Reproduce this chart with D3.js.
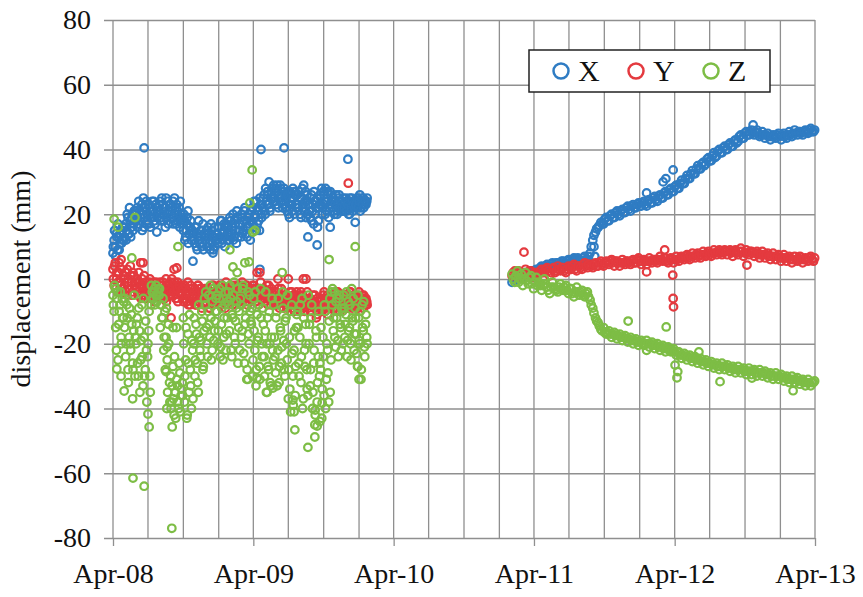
<!DOCTYPE html>
<html>
<head>
<meta charset="utf-8">
<script src="https://cdn.jsdelivr.net/npm/d3@7"></script>
<style>
  body { margin: 0; background: #fff; }
  svg { display: block; }
  text { font-family: "Liberation Serif", "Times New Roman", Tinos, serif; fill: #111; }
</style>
</head>
<body>
<svg id="chart" width="863" height="597"></svg>
<script>
// ---- series and axis definitions ----
const seriesNames = ["X", "Y", "Z"];
const seriesColors = ["#2f7cc3", "#e43a3f", "#7dbd45"];
const yTicks = [-80, -60, -40, -20, 0, 20, 40, 60, 80];
const xTickLabels = ["Apr-08", "Apr-09", "Apr-10", "Apr-11", "Apr-12", "Apr-13"];
const yTitle = "displacement (mm)";
const serifStack = '"Liberation Serif", "Times New Roman", Tinos, serif';

// ---- first monitoring period: morning round, every 3 days ----
const survey1Start = "2008-04-01";
const survey1StepDays = 3;
const survey1X = [
  8,12,10,14,9,13,11,15,12,16,
  13,17,15,19,14,18,16,20,17,21,
  18,22,17,21,19,23,20,16,22,24,
  20,17,22,19,24,21,18,23,20,22,
  21,24,19,23,18,22,25,20,17,21,
  23,20,24,18,22,17,21,19,16,20,
  19,15,18,13,17,21,14,16,12,15,
  14,11,16,9,13,12,15,10,17,13,
  12,15,10,14,11,17,13,9,16,12,
  14,11,16,13,18,12,15,10,17,14,
  16,12,18,14,20,13,17,11,19,15,
  17,13,19,15,21,14,18,16,20,12,
  18,22,16,20,24,17,21,15,23,19,
  22,26,20,24,27,23,21,25,28,24,
  25,28,23,27,26,29,24,22,27,25,
  24,21,27,19,25,23,28,20,26,22,
  26,22,25,19,28,23,21,27,24,20,
  23,19,26,21,17,24,22,25,18,23,
  25,28,22,26,20,24,27,19,23,26,
  22,25,20,24,23,21,26,22,24,21,
  23,21,25,22,24,20,23,25,21,24,
  24,22,25,23,26,22,24,25,23,24,24
];
const survey1Y = [
  3,-2,5,0,-4,2,-1,6,-3,1,
  -2,2,-5,0,-3,4,-1,-4,1,-2,
  -3,0,-5,-1,5,-4,-2,1,-6,-3,
  -2,-5,0,-3,-6,-1,-4,-2,-5,-3,
  -4,-1,-5,-2,-3,-6,0,-4,-2,-5,
  -3,0,-5,3,-2,-6,-1,-4,-3,-2,
  -5,-2,-6,-3,-7,-1,-4,-8,-3,-5,
  -6,-3,-8,-4,-2,-7,-5,-9,-4,-6,
  -5,-8,-3,-6,-9,-4,-7,-2,-6,-5,
  -4,-7,-2,-5,-8,-3,-6,-4,-1,-5,
  -5,-3,-7,-2,-6,-4,-8,-3,-5,-2,
  -3,-6,-1,-5,-4,-7,-2,-5,-3,-6,
  -4,-2,-6,-3,-7,2,-5,-4,-1,-6,
  -5,-3,-7,-4,-6,-2,-5,-8,-4,-6,
  -6,-4,-8,0,-5,-7,-3,-6,-9,-5,
  -7,-5,0,-8,-6,-4,-9,-7,-5,-8,
  -6,-9,-7,-4,-8,0,-10,-6,-8,-7,
  -8,-6,-10,-7,-9,-5,-8,-11,-7,-9,
  -9,-6,-8,-4,-10,-7,-5,-9,-6,-8,
  -7,-5,-9,-6,-8,-4,-7,-10,-6,-8,
  -6,-8,-5,-7,-9,-6,-4,-8,-7,-5,
  -7,-5,-9,-6,-8,-7,-5,-9,-6,-8,-7
];
const survey1Z = [
  -5,-10,-3,-22,-4,-14,-8,-18,-6,-12,
  -15,-24,-8,-28,-18,-20,-11,-26,-16,-30,
  -20,-12,-30,-16,-25,-8,-33,-18,-28,-22,
  -24,-16,-30,-8,-4,-6,-3,-5,-7,-4,
  -5,-15,-8,-12,-22,-10,-18,-25,-14,-32,
  -30,-38,-27,-42,-35,-15,-33,-40,-29,-36,
  -32,-12,-38,-25,-43,-17,-35,-28,-40,-22,
  -20,-30,-14,-26,-35,-18,-24,-10,-28,-16,
  -8,-15,-24,-5,-18,-12,-22,-3,-16,-10,
  -10,-20,-6,-24,-14,-2,-18,-8,-22,-12,
  -4,-16,-6,-24,-12,-1,-20,-9,-3,-15,
  -22,-8,-16,-2,-26,-12,-31,-4,-20,-10,
  -14,-30,-6,-22,-33,-11,-18,-27,-3,-20,
  -9,-24,-16,-35,-12,-28,-20,-33,-6,-25,
  -18,-29,-10,-22,-32,-15,-26,-4,-19,-30,
  -12,-25,-37,-18,-41,-8,-30,-22,-36,-15,
  -10,-26,-18,-32,-6,-37,-22,-14,-28,-36,
  -20,-33,-12,-40,-26,-45,-16,-38,-24,-30,
  -28,-43,-18,-36,-10,-31,-22,-38,-6,-25,
  -8,-16,-4,-21,-12,-19,-6,-14,-22,-10,
  -5,-18,-11,-24,-7,-15,-20,-3,-13,-22,
  -9,-17,-27,-12,-20,-31,-8,-16,-21,-14,-18
];

// ---- first monitoring period: afternoon round, every 3 days ----
const survey1bStart = "2008-04-02";
const survey1bX = [
  10,15,7,13,17,9,14,11,16,12,
  16,12,20,14,22,13,19,15,21,18,
  21,16,24,18,20,15,25,19,23,17,
  18,23,16,21,19,24,17,22,19,21,
  23,18,25,20,22,16,19,24,21,23,
  19,22,17,25,20,23,18,22,24,18,
  17,20,12,15,19,11,16,18,14,13,
  12,16,10,14,18,11,13,15,9,14,
  14,10,16,12,9,15,11,13,10,14,
  12,16,13,18,11,14,17,13,16,12,
  14,19,13,16,12,18,15,21,13,17,
  15,20,14,18,22,16,13,19,17,21,
  21,17,24,19,15,22,18,25,20,23,
  25,21,28,23,26,30,22,27,25,29,
  27,24,29,22,25,28,26,23,28,26,
  22,26,20,27,24,21,25,27,23,26,
  23,27,20,25,22,29,24,19,26,23,
  21,25,18,23,27,20,24,16,22,26,
  23,20,27,24,28,21,25,22,27,24,
  24,21,23,26,20,25,22,24,21,25,
  22,24,21,23,20,25,22,24,23,22,
  23,25,22,24,21,25,23,22,24,23,25
];
const survey1bY = [
  0,4,-3,2,-1,5,-2,3,-4,1,
  0,-4,3,-1,-3,1,-5,2,-2,-1,
  -1,-4,2,-3,-6,0,-2,-5,-1,-4,
  -4,-1,-3,-6,-2,-4,-7,-1,-3,-5,
  -2,-6,-3,-1,-5,-3,-7,-2,-4,-1,
  -5,-2,-4,-1,-6,-3,-7,-2,-5,-4,
  -3,-7,-2,-5,-4,-8,-6,-2,-5,-7,
  -4,-8,-5,-2,-7,-3,-6,-4,-8,-3,
  -7,-3,-6,-9,-4,-5,-2,-8,-4,-7,
  -6,-3,-8,-4,-2,-6,-5,-9,-3,-7,
  -3,-7,-4,-8,-3,-5,-2,-6,-7,-4,
  -5,-2,-7,-3,-6,-2,-8,-4,-6,-3,
  -6,-4,-2,-7,-4,-5,-8,-3,-6,-4,
  -3,-7,-5,-2,-8,-4,-6,-3,-7,-5,
  -4,-8,-6,-3,-9,-5,-7,-4,-6,-8,
  -5,-9,-6,-4,-8,-7,-5,-10,-6,-4,
  -8,-5,-10,-7,-5,-9,-6,-8,-4,-9,
  -6,-10,-8,-5,-7,-9,-12,-6,-10,-7,
  -7,-10,-5,-9,-6,-8,-11,-7,-9,-5,
  -6,-9,-7,-4,-10,-6,-8,-5,-9,-7,
  -8,-5,-9,-6,-8,-4,-7,-9,-5,-6,
  -6,-9,-7,-4,-8,-6,-9,-5,-7,-6,-8
];
const survey1bZ = [
  -8,-2,-15,-6,-25,-10,-4,-20,-12,-7,
  -6,-20,-12,-32,-9,-22,-14,-28,-5,-18,
  -14,-26,-9,-35,-19,-24,-6,-30,-13,-38,
  -20,-10,-35,-2,-6,-4,-8,-2,-5,-3,
  -3,-8,-12,-6,-18,-28,-9,-35,-20,-38,
  -40,-33,-37,-24,-43,-31,-38,-26,-41,-34,
  -36,-20,-30,-15,-42,-26,-11,-33,-19,-37,
  -12,-25,-17,-32,-8,-22,-19,-13,-27,-6,
  -4,-20,-10,-14,-2,-25,-7,-19,-13,-6,
  -5,-16,-3,-21,-9,-25,-12,-4,-17,-7,
  -8,-2,-22,-11,-5,-18,-13,-7,-26,-10,
  -6,-18,-3,-23,-14,-9,-28,-17,-5,-13,
  -9,-25,-16,-4,-28,-19,-8,-31,-12,-24,
  -14,-30,-4,-20,-27,-10,-32,-18,-22,-8,
  -24,-12,-33,-6,-27,-16,-21,-9,-28,-13,
  -20,-5,-28,-34,-10,-23,-39,-16,-27,-11,
  -15,-30,-8,-24,-40,-12,-27,-20,-34,-5,
  -14,-28,-8,-35,-22,-42,-18,-32,-10,-26,
  -15,-34,-24,-8,-40,-20,-29,-13,-35,-4,
  -3,-12,-18,-7,-10,-24,-5,-15,-9,-20,
  -9,-14,-4,-19,-16,-8,-25,-12,-6,-17,
  -12,-23,-5,-19,-10,-28,-15,-7,-24,-11,-20
];

// ---- second monitoring period: weekly readings (two rounds) ----
const survey2Start = "2011-02-03";
const survey2bStart = "2011-02-06";
const survey2StepDays = 7;
const survey2X = [
  -1,0.5,0,1.5,0.5,2,1,2.5,1.5,3,
  2.5,4,3,4.5,3.5,5,4,5,4.5,5.5,
  4.5,6,5,6.5,5,6,5.5,7,6,8,
  12,14.5,16,17.5,17,19,18,20,19,21,
  19.5,21.5,20.5,22.5,21,23,22,23.5,22.5,24,
  22.5,24.5,23.5,25.5,24,26,25,27,26,28,
  27,29,28,30.5,29.5,32,31,33.5,32.5,35,
  34,36,35.5,37.5,36.5,39,38,40,39,41,
  40,42,41,43,42.5,44.5,43.5,45.5,44.5,46,
  44.5,46,44,45.5,43.5,45,43,44.5,43.5,45,
  43,45,43.5,45.5,44,46,44.5,45.5,44.5,46,
  45,46.5,45.5
];
const survey2bX = [
  0,-0.5,1,0.5,1.5,1,2,1.5,2.5,2,
  3.5,3,4,3.5,4.5,4,5,4.5,5.5,5,
  5.5,5,6,5.5,6.5,5.5,6.5,6,7,10,
  13.5,15.5,16.5,17,18.5,18,19.5,19,20.5,20,
  21,20.5,22,21.5,22.5,22,23,22.5,23.5,23,
  24,23.5,25,24.5,25.5,25,26.5,26,27.5,27,
  28.5,28,29.5,29.5,31,31,32.5,32.5,34,34,
  35.5,35,37,36.5,38,37.5,39.5,39,40.5,40,
  41.5,41,42.5,42,44,43.5,45,44.5,45.5,45,
  45.5,45,44.5,44.5,44.5,44,44,44,44.5,44,
  44.5,44,44.5,44.5,45,45,45.5,45,45.5,45.5,
  46,45.5,46
];
const survey2Y = [
  1,2.5,0.5,2,1,3,1.5,2.5,0.5,2,
  1.5,3,2,3.5,1,3,2,4,2.5,3.5,
  2,4,3,4.5,2.5,4,3,5,3.5,4.5,
  3.5,5,4,5.5,4,5.5,4.5,6,4,5.5,
  4,6,4.5,5.5,4.5,6,5,6.5,4.5,6,
  4.5,6.5,5,6,5,7,5.5,6.5,5,6.5,
  5,7,5.5,7,6,7.5,6,8,6.5,8,
  6.5,8.5,7,8.5,7,9,7.5,9,7.5,9,
  7.5,9,7,9,7.5,9.5,7,9,7.5,8.5,
  7,8.5,6.5,8.5,6.5,8,6,8,6,7.5,
  5.5,7.5,5.5,7,5,7,5.5,7,5,6.5,
  5.5,7,5.5
];
const survey2bY = [
  2,1,2.5,1.5,2,1.5,2.5,1,2,1.5,
  2.5,2,3,2.5,2,3.5,2.5,3,3.5,2.5,
  3,3.5,4,3,4,3.5,4.5,4,4.5,4,
  4.5,4,5,4.5,5,5,5.5,5,5.5,5,
  5,5,5.5,5,5.5,5,6,5.5,5.5,5.5,
  5.5,5.5,6,5.5,6,6,6.5,5.5,6,6,
  6,6,6.5,6.5,7,6.5,7,7,7.5,7,
  7.5,7.5,8,7.5,8,8,8.5,8,8.5,8.5,
  8.5,8,8.5,8,8.5,8.5,8,8,8.5,8,
  8,7.5,7.5,7.5,7.5,7,7,7,7,6.5,
  6.5,6.5,6.5,6,6,6,6.5,6,6,6,
  6.5,6,6.5
];
const survey2Z = [
  1.5,-1,2.5,0,-2,2,-1.5,1,-3,0.5,
  -1,-3.5,0,-2.5,-4.5,-1,-3,-4,-1.5,-3.5,
  -2,-4.5,-3,-5.5,-2.5,-5,-3.5,-5.5,-4,-6.5,
  -9,-12,-13.5,-15.5,-15,-17,-16,-18,-16.5,-18.5,
  -17,-19,-17.5,-19.5,-18,-20,-18.5,-20.5,-19,-20.5,
  -19,-21,-19.5,-21.5,-20,-22,-20.5,-22.5,-21,-22.5,
  -21.5,-23.5,-22.5,-24.5,-23,-25,-23.5,-25.5,-24,-26,
  -24.5,-26.5,-25,-27,-25.5,-27.5,-26,-28,-26,-28,
  -26.5,-28.5,-27,-29,-27,-29,-27.5,-29.5,-27.5,-29.5,
  -28,-30,-28,-30,-28.5,-30.5,-29,-31,-29,-31,
  -29.5,-31.5,-30,-32,-30,-32,-30.5,-32.5,-31,-33,
  -31,-33,-32
];
const survey2bZ = [
  0,1,-1,1.5,0,-0.5,0.5,-1.5,-1,-2,
  -2,-2,-1.5,-3.5,-2.5,-2.5,-3.5,-2.5,-3,-2.5,
  -3.5,-3,-4.5,-4,-4,-4,-5,-4.5,-5.5,-8,
  -10.5,-13,-14.5,-16,-16.5,-16.5,-17,-17,-17.5,-17.5,
  -18,-18,-18.5,-18.5,-19,-19,-19.5,-19.5,-20,-20,
  -20,-20,-20.5,-20.5,-21,-21,-21.5,-21.5,-22,-22,
  -22.5,-22.5,-23.5,-23.5,-24,-24,-24.5,-24.5,-25,-25,
  -25.5,-25.5,-26,-26,-26.5,-26.5,-27,-27,-27,-27,
  -27.5,-27.5,-28,-28,-28,-28,-28.5,-28.5,-28.5,-28.5,
  -29,-29,-29,-29,-29.5,-29.5,-30,-30,-30,-30,
  -30.5,-30.5,-31,-31,-31,-31,-31.5,-31.5,-32,-32,
  -32,-32,-31.5
];

// ---- isolated readings (date, value) ----
const extraX = [
  ["2008-06-21",40.5],["2008-07-24",14.5],["2008-10-26",5.5],["2008-12-17",8],
  ["2009-04-21",40],["2009-04-18",3],["2009-06-20",40.5],["2009-08-21",13],
  ["2009-09-14",10.5],["2009-10-18",16],["2009-12-03",37],["2009-12-22",17.5],
  ["2011-09-04",10],["2011-09-06",7],["2012-01-19",26.6],["2012-03-02",30],
  ["2012-03-09",31],["2012-03-28",33.7],["2012-10-22",47.6]
];
const extraY = [
  ["2008-08-30",-12],["2009-12-04",29.6],["2008-06-18",5],["2008-09-14",3.4],
  ["2009-04-18",2],["2009-08-16",0],
  ["2011-03-06",8.3],["2012-01-19",2.2],["2012-03-06",9],["2012-03-27",1.2],
  ["2012-03-28",-6],["2012-03-29",-8.6],["2012-10-06",4.3]
];
const extraZ = [
  ["2008-04-04",18.5],["2008-04-14",16],["2008-05-28",19],["2008-05-20",6.5],
  ["2008-09-17",10],["2009-03-23",23.5],["2009-03-29",33.7],["2009-03-31",14.5],
  ["2009-04-05",15],["2009-01-30",9],["2009-03-10",5],["2009-03-21",5.3],
  ["2009-02-07",3.7],["2009-02-18",2],["2009-06-15",2],["2009-10-15",6],
  ["2009-12-22",10],
  ["2008-05-23",-61.5],["2008-06-21",-64],["2008-07-01",-41.7],["2008-07-04",-45.7],
  ["2008-04-30",-34.6],["2008-05-22",-37],["2008-04-11",-27.8],["2008-04-22",-30],
  ["2008-09-01",-77],["2008-08-19",-40],["2008-09-02",-45.7],["2008-08-20",-21],
  ["2008-08-17",-28.6],["2008-09-04",-15],
  ["2009-07-18",-46.6],["2009-07-16",-41],["2009-07-13",-37.4],["2009-08-21",-52],
  ["2009-09-08",-48.8],["2009-09-14",-45.4],["2009-09-21",-44],["2009-09-09",-40.5],
  ["2009-09-27",-38.3],["2009-05-07",-35],["2009-05-22",-33.7],["2009-03-18",-31],
  ["2009-04-11",-30.6],["2009-12-29",-27],["2010-01-01",-31],
  ["2011-12-02",-13],["2012-03-10",-14.8],["2012-06-03",-22.5],["2012-04-07",-30.5],
  ["2012-04-09",-28.6],["2012-04-02",-26.6],["2012-07-28",-31.7],["2013-02-03",-34.5],
  ["2012-10-19",-30.6],["2012-01-19",-22]
];

// ---- layout ----
const margin = { left: 113, right: 48, top: 20, bottom: 59 };
const W = 863, H = 597;
const svg = d3.select("#chart");
svg.append("rect").attr("width", W).attr("height", H).attr("fill", "#fff");

const parseDay = d3.timeParse("%Y-%m-%d");
const parseTick = d3.timeParse("%b-%y");
const tickDates = xTickLabels.map(parseTick);

const x = d3.scaleTime()
  .domain([tickDates[0], tickDates[tickDates.length - 1]])
  .range([margin.left, W - margin.right]);
const y = d3.scaleLinear()
  .domain([yTicks[0], yTicks[yTicks.length - 1]])
  .range([H - margin.bottom, margin.top]);

const gridColor = "#8f8f8f";
const [x0, x1] = x.range();
const [yb, yt] = y.range();

// quarterly vertical grid
const quarterDates = d3.timeMonth.every(3).range(x.domain()[0], d3.timeDay.offset(x.domain()[1], 1));
svg.append("g")
  .selectAll("line")
  .data(quarterDates)
  .join("line")
  .attr("x1", d => x(d)).attr("x2", d => x(d))
  .attr("y1", yt).attr("y2", yb)
  .attr("stroke", gridColor).attr("stroke-width", 1.3);

// horizontal grid + y axis labels (plain hyphen for negatives)
const yAxis = svg.append("g")
  .attr("transform", `translate(${x0},0)`)
  .call(d3.axisLeft(y).tickValues(yTicks).tickSize(9).tickPadding(13).tickFormat(d => String(d)));
yAxis.attr("font-family", null).attr("font-size", null);
yAxis.select(".domain").remove();
yAxis.selectAll(".tick line").attr("x2", x1 - x0).attr("x1", -9)
  .attr("stroke", gridColor).attr("stroke-width", 1.3);
yAxis.selectAll(".tick text")
  .style("font-family", serifStack)
  .style("font-size", "28px").attr("fill", "#111");

// x axis: yearly ticks and labels
const xAxis = svg.append("g")
  .attr("transform", `translate(0,${yb})`)
  .call(d3.axisBottom(x).tickValues(tickDates).tickSize(8).tickPadding(17)
    .tickFormat((d, i) => xTickLabels[i]));
xAxis.attr("font-family", null).attr("font-size", null);
xAxis.select(".domain").remove();
xAxis.selectAll(".tick line").attr("stroke", gridColor).attr("stroke-width", 1.3);
xAxis.selectAll(".tick text")
  .style("font-family", serifStack)
  .style("font-size", "28px").attr("fill", "#111");

// y axis title
svg.append("text")
  .attr("transform", `translate(30,${(yt + yb) / 2}) rotate(-90)`)
  .attr("text-anchor", "middle")
  .style("font-family", serifStack)
  .style("font-size", "28px")
  .text(yTitle);

// ---- build point sets ----
function surveyPoints(start, step, values) {
  const t0 = parseDay(start);
  return values.map((v, i) => ({ date: d3.timeDay.offset(t0, i * step), value: v }));
}
const rounds = [
  [survey1Start, survey1StepDays, [survey1X, survey1Y, survey1Z]],
  [survey1bStart, survey1StepDays, [survey1bX, survey1bY, survey1bZ]],
  [survey2Start, survey2StepDays, [survey2X, survey2Y, survey2Z]],
  [survey2bStart, survey2StepDays, [survey2bX, survey2bY, survey2bZ]]
];
const extras = [extraX, extraY, extraZ];

const series = seriesNames.map((name, k) => ({
  name,
  color: seriesColors[k],
  points: [
    ...rounds.flatMap(([start, step, vals]) => surveyPoints(start, step, vals[k])),
    ...extras[k].map(([d, v]) => ({ date: parseDay(d), value: v }))
  ]
}));

const marks = svg.append("g");
series.forEach(s => {
  marks.append("g")
    .selectAll("circle")
    .data(s.points)
    .join("circle")
    .attr("cx", d => x(d.date))
    .attr("cy", d => y(d.value))
    .attr("r", 3.8)
    .attr("fill", "none")
    .attr("stroke", s.color)
    .attr("stroke-width", 2.2);
});

// ---- legend ----
const legend = svg.append("g");
legend.append("rect")
  .attr("x", 529).attr("y", 50).attr("width", 241).attr("height", 42)
  .attr("fill", "#fff").attr("stroke", "#222").attr("stroke-width", 1.5);
const item = legend.selectAll("g.item")
  .data(series)
  .join("g")
  .attr("class", "item")
  .attr("transform", (d, i) => `translate(${561 + i * 75},71)`);
item.append("circle")
  .attr("r", 7.5).attr("fill", "none")
  .attr("stroke", d => d.color).attr("stroke-width", 2.5);
item.append("text")
  .attr("x", 17).attr("y", 10)
  .style("font-family", serifStack)
  .style("font-size", "30px")
  .text(d => d.name);
</script>
</body>
</html>
